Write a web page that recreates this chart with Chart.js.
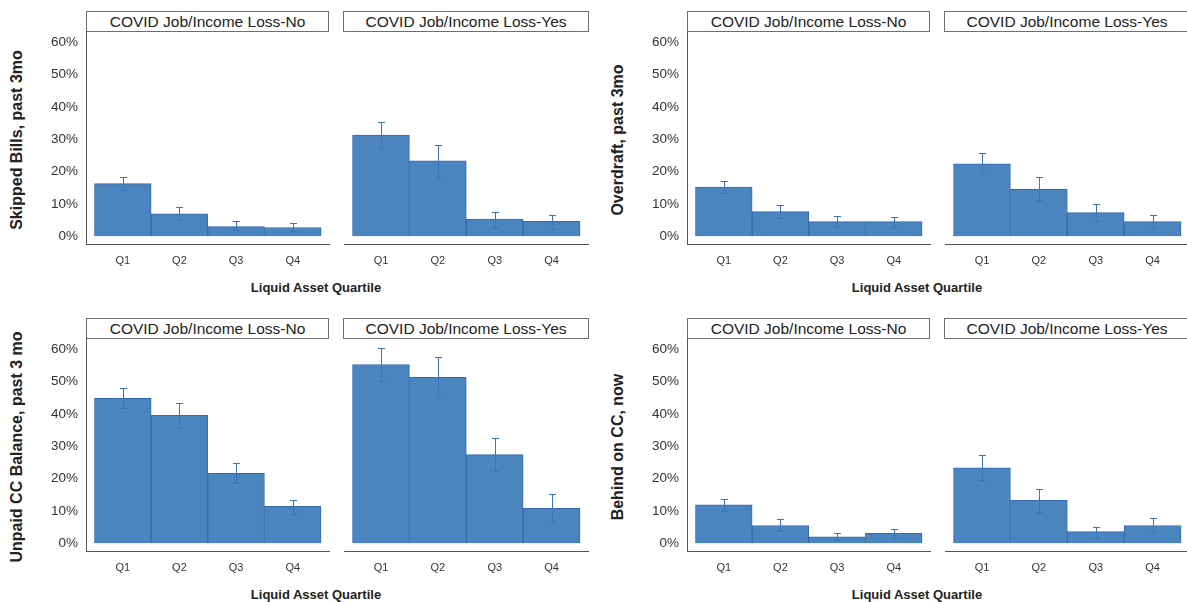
<!DOCTYPE html>
<html>
<head>
<meta charset="utf-8">
<script src="https://cdn.jsdelivr.net/npm/chart.js@4.4.0/dist/chart.umd.min.js"></script>
<style>
  body { margin: 0; background: #fff; }
  #wrap { position: relative; width: 1187px; height: 602px; overflow: hidden; font-family: 'Liberation Sans', Arial, sans-serif; }
  canvas { position: absolute; }
  .strip { position: absolute; height: 21px; box-sizing: border-box; border: 1px solid #6e6e6e; background: #fff;
           text-align: center; font-size: 15.5px; line-height: 19px; color: #222; white-space: nowrap; }
  .xtitle { position: absolute; font-weight: bold; font-size: 13px; line-height: 15px; color: #222; white-space: nowrap; transform: translateX(-50%); }
  .ytitle { position: absolute; font-weight: bold; font-size: 16px; line-height: 18px; color: #222; white-space: nowrap;
            transform: translate(-50%, -50%) rotate(-90deg); }
</style>
</head>
<body>
<div id="wrap"></div>
<script>
const quartiles = ['Q1', 'Q2', 'Q3', 'Q4'];
const facets = ['COVID Job/Income Loss-No', 'COVID Job/Income Loss-Yes'];
const yTicks = [0, 10, 20, 30, 40, 50, 60];
const xTitle = 'Liquid Asset Quartile';
const yLabels = ['Skipped Bills, past 3mo', 'Overdraft, past 3mo', 'Unpaid CC Balance, past 3 mo', 'Behind on CC, now'];

// percent values, with lower/upper ends of the error bars
const skippedNo = [16.3, 6.9, 3.0, 2.7];
const skippedNoLo = [14.2, 4.9, 1.8, 1.5];
const skippedNoHi = [18.3, 8.9, 4.6, 4.1];
const skippedYes = [31.3, 23.3, 5.3, 4.6];
const skippedYesLo = [27.2, 18.3, 2.7, 2.2];
const skippedYesHi = [35.4, 28.3, 7.6, 6.6];

const overdraftNo = [15.2, 7.6, 4.5, 4.5];
const overdraftNoLo = [13.4, 5.5, 2.9, 3.0];
const overdraftNoHi = [17.2, 9.6, 6.3, 6.0];
const overdraftYes = [22.4, 14.6, 7.3, 4.5];
const overdraftYesLo = [19.2, 11.1, 4.8, 2.5];
const overdraftYesHi = [25.9, 18.4, 10.1, 6.5];

const unpaidNo = [44.9, 39.6, 21.6, 11.4];
const unpaidNoLo = [41.9, 35.8, 18.6, 9.1];
const unpaidNoHi = [47.9, 43.4, 24.7, 13.5];
const unpaidYes = [55.3, 51.3, 27.4, 10.8];
const unpaidYesLo = [50.3, 44.9, 22.4, 7.0];
const unpaidYesHi = [60.3, 57.6, 32.5, 15.3];

const behindNo = [11.9, 5.5, 2.0, 3.1];
const behindNoLo = [10.0, 3.8, 1.0, 1.8];
const behindNoHi = [13.8, 7.4, 3.3, 4.3];
const behindYes = [23.3, 13.3, 3.6, 5.5];
const behindYesLo = [19.5, 9.7, 1.8, 3.4];
const behindYesHi = [27.3, 16.8, 5.1, 7.8];

const panels = [
  { label: yLabels[0], values: [skippedNo, skippedYes], lo: [skippedNoLo, skippedYesLo], hi: [skippedNoHi, skippedYesHi] },
  { label: yLabels[1], values: [overdraftNo, overdraftYes], lo: [overdraftNoLo, overdraftYesLo], hi: [overdraftNoHi, overdraftYesHi] },
  { label: yLabels[2], values: [unpaidNo, unpaidYes], lo: [unpaidNoLo, unpaidYesLo], hi: [unpaidNoHi, unpaidYesHi] },
  { label: yLabels[3], values: [behindNo, behindYes], lo: [behindNoLo, behindYesLo], hi: [behindNoHi, behindYesHi] }
];

Chart.defaults.font.family = "'Liberation Sans', Arial, sans-serif";

const wrap = document.getElementById('wrap');

function addDiv(cls, text, css) {
  let d = document.createElement('div');
  d.className = cls;
  d.textContent = text;
  Object.assign(d.style, css);
  wrap.appendChild(d);
}

function addCanvas(left, top, w, h) {
  let c = document.createElement('canvas');
  c.width = w;
  c.height = h;
  c.style.left = left + 'px';
  c.style.top = top + 'px';
  c.style.width = w + 'px';
  c.style.height = h + 'px';
  wrap.appendChild(c);
  return c;
}

function makeErrorBars(lo, hi) {
  return {
    id: 'errorBars',
    afterDatasetsDraw(chart) {
      const { ctx, scales: { x, y } } = chart;
      ctx.save();
      ctx.strokeStyle = '#3a74ba';
      ctx.lineWidth = 1;
      lo.forEach((l, i) => {
        let px = Math.round(x.getPixelForValue(i + 1)) + 0.5;
        let top = Math.round(y.getPixelForValue(hi[i])) + 0.5;
        let bot = Math.round(y.getPixelForValue(l)) + 0.5;
        ctx.beginPath();
        ctx.moveTo(px, top); ctx.lineTo(px, bot);
        ctx.moveTo(px - 3.5, top); ctx.lineTo(px + 3.5, top);
        ctx.moveTo(px - 3.5, bot); ctx.lineTo(px + 3.5, bot);
        ctx.stroke();
      });
      ctx.restore();
    }
  };
}

// no extra padding from tick labels, so the plot area is exactly where the layout puts it
function noPad(s) {
  s.paddingTop = 0;
  s.paddingBottom = 0;
  s.paddingLeft = 0;
  s.paddingRight = 0;
}

function createFacet(canvas, values, lo, hi, showY) {
  return new Chart(canvas, {
    type: 'bar',
    data: {
      datasets: [{
        data: values.map((v, i) => ({ x: i + 1, y: v })),
        backgroundColor: '#4a85c0',
        borderColor: '#3569a9',
        borderWidth: 1,
        barPercentage: 1,
        categoryPercentage: 1
      }]
    },
    options: {
      responsive: false,
      animation: false,
      events: [],
      layout: { padding: { top: 6, right: 6, left: showY ? 0 : 6, bottom: 0 } },
      plugins: { legend: { display: false }, tooltip: { enabled: false } },
      scales: {
        x: {
          type: 'linear', min: 0.35, max: 4.64, offset: false,
          grid: { display: false, drawTicks: false },
          border: { display: true, color: '#555', width: 1 },
          afterBuildTicks: s => { s.ticks = quartiles.map((q, i) => ({ value: i + 1 })); },
          ticks: { callback: v => quartiles[v - 1], font: { size: 11 }, color: '#333', padding: 10, autoSkip: false, maxRotation: 0 },
          afterFit: s => { s.height = 38; noPad(s); }
        },
        y: {
          display: showY, min: -2.4, max: 63.5,
          grid: { display: false, drawTicks: false },
          border: { display: true, color: '#555', width: 1 },
          afterBuildTicks: s => { s.ticks = yTicks.map(v => ({ value: v })); },
          ticks: { callback: v => v + '%', font: { size: 13.5 }, color: '#333', padding: 8 },
          afterFit: s => { s.width = showY ? 86 : 0; noPad(s); }
        }
      }
    },
    plugins: [makeErrorBars(lo, hi)]
  });
}

panels.forEach((p, k) => {
  let dx = (k % 2) * 601;
  let dy = Math.floor(k / 2) * 307;

  addDiv('ytitle', p.label, { left: (dx + 16.5) + 'px', top: (dy + 140) + 'px' });
  addDiv('strip', facets[0], { left: (dx + 86) + 'px', top: (dy + 11) + 'px', width: '243px' });
  addDiv('strip', facets[1], { left: (dx + 343) + 'px', top: (dy + 11) + 'px', width: '246px' });
  addDiv('xtitle', xTitle, { left: (dx + 316) + 'px', top: (dy + 280) + 'px' });

  createFacet(addCanvas(dx, dy + 25, 335, 257), p.values[0], p.lo[0], p.hi[0], true);
  createFacet(addCanvas(dx + 338, dy + 25, 256, 257), p.values[1], p.lo[1], p.hi[1], false);
});
</script>
</body>
</html>
